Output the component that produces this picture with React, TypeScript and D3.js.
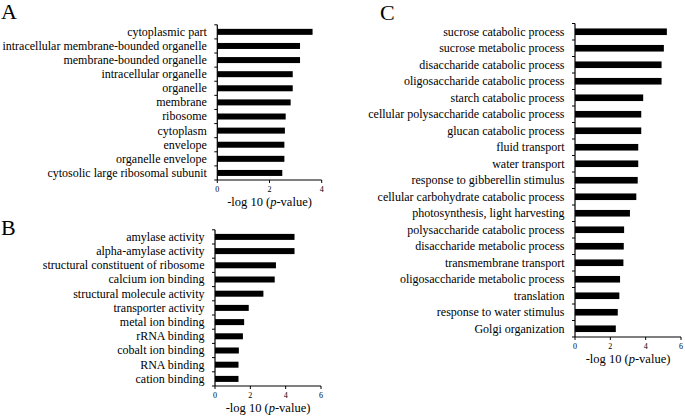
import React from "react";
import * as d3 from "d3";

const catsA = [
  "cytoplasmic part",
  "intracellular membrane-bounded organelle",
  "membrane-bounded organelle",
  "intracellular organelle",
  "organelle",
  "membrane",
  "ribosome",
  "cytoplasm",
  "envelope",
  "organelle envelope",
  "cytosolic large ribosomal subunit",
];
const valsA = [3.65, 3.17, 3.17, 2.89, 2.89, 2.81, 2.62, 2.59, 2.57, 2.57, 2.49];
const ticksA = [0, 2, 4];

const catsB = [
  "amylase activity",
  "alpha-amylase activity",
  "structural constituent of ribosome",
  "calcium ion binding",
  "structural molecule activity",
  "transporter activity",
  "metal ion binding",
  "rRNA binding",
  "cobalt ion binding",
  "RNA binding",
  "cation binding",
];
const valsB = [4.5, 4.5, 3.45, 3.38, 2.74, 1.91, 1.65, 1.58, 1.35, 1.33, 1.33];
const ticksB = [0, 2, 4, 6];

const catsC = [
  "sucrose catabolic process",
  "sucrose metabolic process",
  "disaccharide catabolic process",
  "oligosaccharide catabolic process",
  "starch catabolic process",
  "cellular polysaccharide catabolic process",
  "glucan catabolic process",
  "fluid transport",
  "water transport",
  "response to gibberellin stimulus",
  "cellular carbohydrate catabolic process",
  "photosynthesis, light harvesting",
  "polysaccharide catabolic process",
  "disaccharide metabolic process",
  "transmembrane transport",
  "oligosaccharide metabolic process",
  "translation",
  "response to water stimulus",
  "Golgi organization",
];
const valsC = [5.2, 5.03, 4.9, 4.9, 3.86, 3.75, 3.75, 3.58, 3.58, 3.55, 3.47, 3.11, 2.78, 2.76, 2.74, 2.55, 2.51, 2.42, 2.31];
const ticksC = [0, 2, 4, 6];

const FONT = "'Liberation Serif', 'Times New Roman', serif";

type PanelProps = {
  letter: string;
  letterX: number;
  letterY: number;
  cats: string[];
  vals: number[];
  ticks: number[];
  xRange: [number, number];
  yRange: [number, number];
  barH: number;
  labelSize: number;
};

function Panel(p: PanelProps) {
  const max = p.ticks[p.ticks.length - 1];
  const x = d3.scaleLinear().domain([0, max]).range(p.xRange);
  const y = d3.scaleBand<string>().domain(p.cats).range(p.yRange);
  const bw = y.bandwidth();
  const x0 = x(0);
  const yBottom = p.yRange[1];
  const boundaries = p.cats.map((c) => y(c)!).concat([yBottom]);
  return (
    <g>
      <text x={p.letterX} y={p.letterY} fontFamily={FONT} fontSize={22}>
        {p.letter}
      </text>
      {p.cats.map((c, i) => (
        <g key={c}>
          <rect
            x={x0}
            y={y(c)! + bw / 2 - p.barH / 2}
            width={x(p.vals[i]) - x0}
            height={p.barH}
            fill="#000"
          />
          <text
            x={x0 - 10.5}
            y={y(c)! + bw / 2}
            dy="0.33em"
            textAnchor="end"
            fontFamily={FONT}
            fontSize={p.labelSize}
            fill="#000"
          >
            {c}
          </text>
        </g>
      ))}
      {/* y axis */}
      <line x1={x0} x2={x0} y1={p.yRange[0]} y2={yBottom} stroke="#000" strokeWidth={1.2} />
      {boundaries.map((b, i) => (
        <line key={i} x1={x0 - 3} x2={x0} y1={b} y2={b} stroke="#000" strokeWidth={1} />
      ))}
      {/* x axis */}
      <line x1={x0} x2={p.xRange[1]} y1={yBottom} y2={yBottom} stroke="#000" strokeWidth={1.2} />
      {p.ticks.map((t) => (
        <g key={t}>
          <line x1={x(t)} x2={x(t)} y1={yBottom} y2={yBottom + 3} stroke="#000" strokeWidth={1} />
          <text
            x={x(t)}
            y={yBottom + 12}
            textAnchor="middle"
            fontFamily={FONT}
            fontSize={8}
          >
            {t}
          </text>
        </g>
      ))}
      <text
        x={(p.xRange[0] + p.xRange[1]) / 2}
        y={yBottom + 26}
        textAnchor="middle"
        fontFamily={FONT}
        fontSize={12.5}
      >
        -log 10 (<tspan fontStyle="italic">p</tspan>-value)
      </text>
    </g>
  );
}

export default function App() {
  return (
    <svg
      width={685}
      height={417}
      style={{ position: "absolute", left: 0, top: 0, background: "#fff" }}
    >
      <rect width={685} height={417} fill="#fff" />
      <Panel
        letter="A"
        letterX={1}
        letterY={19}
        cats={catsA}
        vals={valsA}
        ticks={ticksA}
        xRange={[217.3, 321.7]}
        yRange={[24.8, 180]}
        barH={6}
        labelSize={12}
      />
      <Panel
        letter="B"
        letterX={1}
        letterY={235}
        cats={catsB}
        vals={valsB}
        ticks={ticksB}
        xRange={[215, 321]}
        yRange={[229.8, 386]}
        barH={6}
        labelSize={12}
      />
      <Panel
        letter="C"
        letterX={380}
        letterY={20}
        cats={catsC}
        vals={valsC}
        ticks={ticksC}
        xRange={[575, 681]}
        yRange={[23.5, 337]}
        barH={6.6}
        labelSize={12}
      />
    </svg>
  );
}
